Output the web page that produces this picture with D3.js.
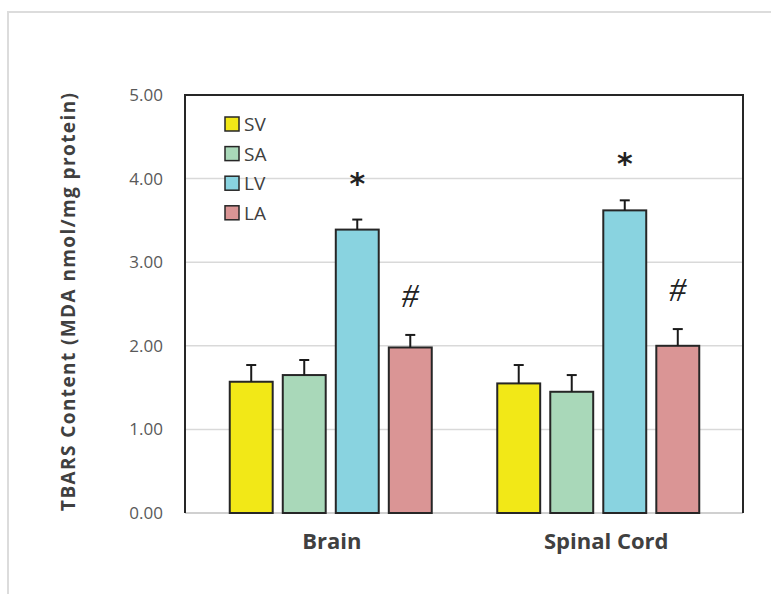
<!DOCTYPE html>
<html>
<head>
<meta charset="utf-8">
<script src="https://cdn.jsdelivr.net/npm/d3@7"></script>
<style>
  body { margin: 0; background: #fff; }
  svg { display: block; }
</style>
</head>
<body>
<div id="chart"></div>
<script>
const groups = ["Brain", "Spinal Cord"];
const series = ["SV", "SA", "LV", "LA"];
const brainMeans = [1.57, 1.65, 3.39, 1.98];
const brainErr = [0.20, 0.18, 0.12, 0.15];
const spinalMeans = [1.55, 1.45, 3.62, 2.00];
const spinalErr = [0.22, 0.20, 0.12, 0.20];
const marks = ["", "", "*", "#"];
const yTicks = [0, 1, 2, 3, 4, 5];
const colors = ["#f2e817", "#a9d8b9", "#89d3e0", "#da9595"];

const width = 771;
const height = 594;

const rows = [];
groups.forEach(function(g, gi) {
    const means = gi === 0 ? brainMeans : spinalMeans;
    const errs = gi === 0 ? brainErr : spinalErr;
    series.forEach(function(s, si) {
        rows.push({group: g, series: s, value: means[si], err: errs[si], mark: marks[si], color: colors[si]});
    });
});

const svg = d3.select("#chart")
    .append("svg")
    .attr("width", width)
    .attr("height", height);

// outer frame (partly cut off)
svg.append("rect")
    .attr("x", 8).attr("y", 12)
    .attr("width", 800).attr("height", 640)
    .attr("fill", "none")
    .attr("stroke", "#dcdcdc")
    .attr("stroke-width", 2);

const plot = {left: 185, right: 743, top: 95, bottom: 513};

const y = d3.scaleLinear()
    .domain([0, 5])
    .range([plot.bottom, plot.top]);

const x0 = d3.scaleBand()
    .domain(groups)
    .range([197, 732]);

const x1 = d3.scaleBand()
    .domain(series)
    .range([-101, 101])
    .paddingInner(0.19);

// gridlines
svg.append("g")
    .selectAll("line")
    .data(yTicks.filter(d => d > 0 && d < 5))
    .enter()
    .append("line")
    .attr("x1", plot.left).attr("x2", plot.right)
    .attr("y1", d => y(d)).attr("y2", d => y(d))
    .attr("stroke", "#d9d9d9")
    .attr("stroke-width", 1.5);

// y tick labels
const yAxis = d3.axisLeft(y)
    .tickValues(yTicks)
    .tickFormat(d3.format(".2f"))
    .tickSize(0)
    .tickPadding(22);

const ya = svg.append("g")
    .attr("transform", "translate(" + plot.left + ",0)")
    .call(yAxis);
ya.select(".domain").remove();
ya.selectAll("text")
    .attr("fill", "#595959")
    .style("font-family", "'Open Sans', sans-serif")
    .style("font-size", "17px");

// bottom axis line
svg.append("line")
    .attr("x1", plot.left).attr("x2", plot.right)
    .attr("y1", plot.bottom).attr("y2", plot.bottom)
    .attr("stroke", "#d0d0d0")
    .attr("stroke-width", 2);

// bars
const bar = svg.append("g")
    .selectAll("g")
    .data(rows)
    .enter()
    .append("g")
    .attr("transform", d => "translate(" + (x0(d.group) + x0.bandwidth() / 2 + x1(d.series)) + ",0)");

bar.append("rect")
    .attr("x", 0)
    .attr("y", d => y(d.value))
    .attr("width", x1.bandwidth())
    .attr("height", d => y(0) - y(d.value))
    .attr("fill", d => d.color)
    .attr("stroke", "#262626")
    .attr("stroke-width", 2);

// error bars
bar.append("line")
    .attr("x1", x1.bandwidth() / 2).attr("x2", x1.bandwidth() / 2)
    .attr("y1", d => y(d.value)).attr("y2", d => y(d.value + d.err))
    .attr("stroke", "#1a1a1a")
    .attr("stroke-width", 2);

bar.append("line")
    .attr("x1", x1.bandwidth() / 2 - 5).attr("x2", x1.bandwidth() / 2 + 5)
    .attr("y1", d => y(d.value + d.err)).attr("y2", d => y(d.value + d.err))
    .attr("stroke", "#1a1a1a")
    .attr("stroke-width", 2);

// significance marks
bar.filter(d => d.mark === "*")
    .append("text")
    .attr("x", x1.bandwidth() / 2)
    .attr("y", d => y(d.value + d.err) - 26)
    .attr("text-anchor", "middle")
    .attr("fill", "#222")
    .style("font-family", "'DejaVu Sans', sans-serif")
    .style("font-weight", "bold")
    .style("font-size", "30px")
    .text(d => d.mark);

bar.filter(d => d.mark === "#")
    .append("text")
    .attr("x", x1.bandwidth() / 2)
    .attr("y", d => y(d.value + d.err) - 28)
    .attr("text-anchor", "middle")
    .attr("fill", "#222")
    .style("font-family", "'Liberation Serif', serif")
    .style("font-style", "italic")
    .style("font-size", "34px")
    .text(d => d.mark);

// plot frame (left, top, right)
svg.append("path")
    .attr("d", "M" + plot.left + "," + plot.bottom + "V" + plot.top + "H" + plot.right + "V" + plot.bottom)
    .attr("fill", "none")
    .attr("stroke", "#262626")
    .attr("stroke-width", 2);

// x labels
svg.append("g")
    .selectAll("text")
    .data(groups)
    .enter()
    .append("text")
    .attr("x", d => x0(d) + x0.bandwidth() / 2 + (d === "Brain" ? 1 : 8))
    .attr("y", 549)
    .attr("text-anchor", "middle")
    .attr("fill", "#404040")
    .style("font-family", "'Open Sans', sans-serif")
    .style("font-weight", "bold")
    .style("font-size", "22px")
    .text(d => d);

// y title
svg.append("text")
    .attr("transform", "translate(75,302) rotate(-90)")
    .attr("text-anchor", "middle")
    .attr("fill", "#404040")
    .attr("textLength", 418)
    .attr("lengthAdjust", "spacing")
    .style("font-family", "'Open Sans', sans-serif")
    .style("font-weight", "bold")
    .style("font-size", "19px")
    .text("TBARS Content (MDA nmol/mg protein)");

// legend
const legend = svg.append("g")
    .selectAll("g")
    .data(series)
    .enter()
    .append("g")
    .attr("transform", (d, i) => "translate(225," + (117 + i * 29.6) + ")");

legend.append("rect")
    .attr("width", 14).attr("height", 14)
    .attr("fill", (d, i) => colors[i])
    .attr("stroke", "#262626")
    .attr("stroke-width", 1.5);

legend.append("text")
    .attr("x", 19).attr("y", 14)
    .attr("fill", "#404040")
    .style("font-family", "'Open Sans', sans-serif")
    .style("font-size", "19px")
    .text(d => d);
</script>
</body>
</html>
